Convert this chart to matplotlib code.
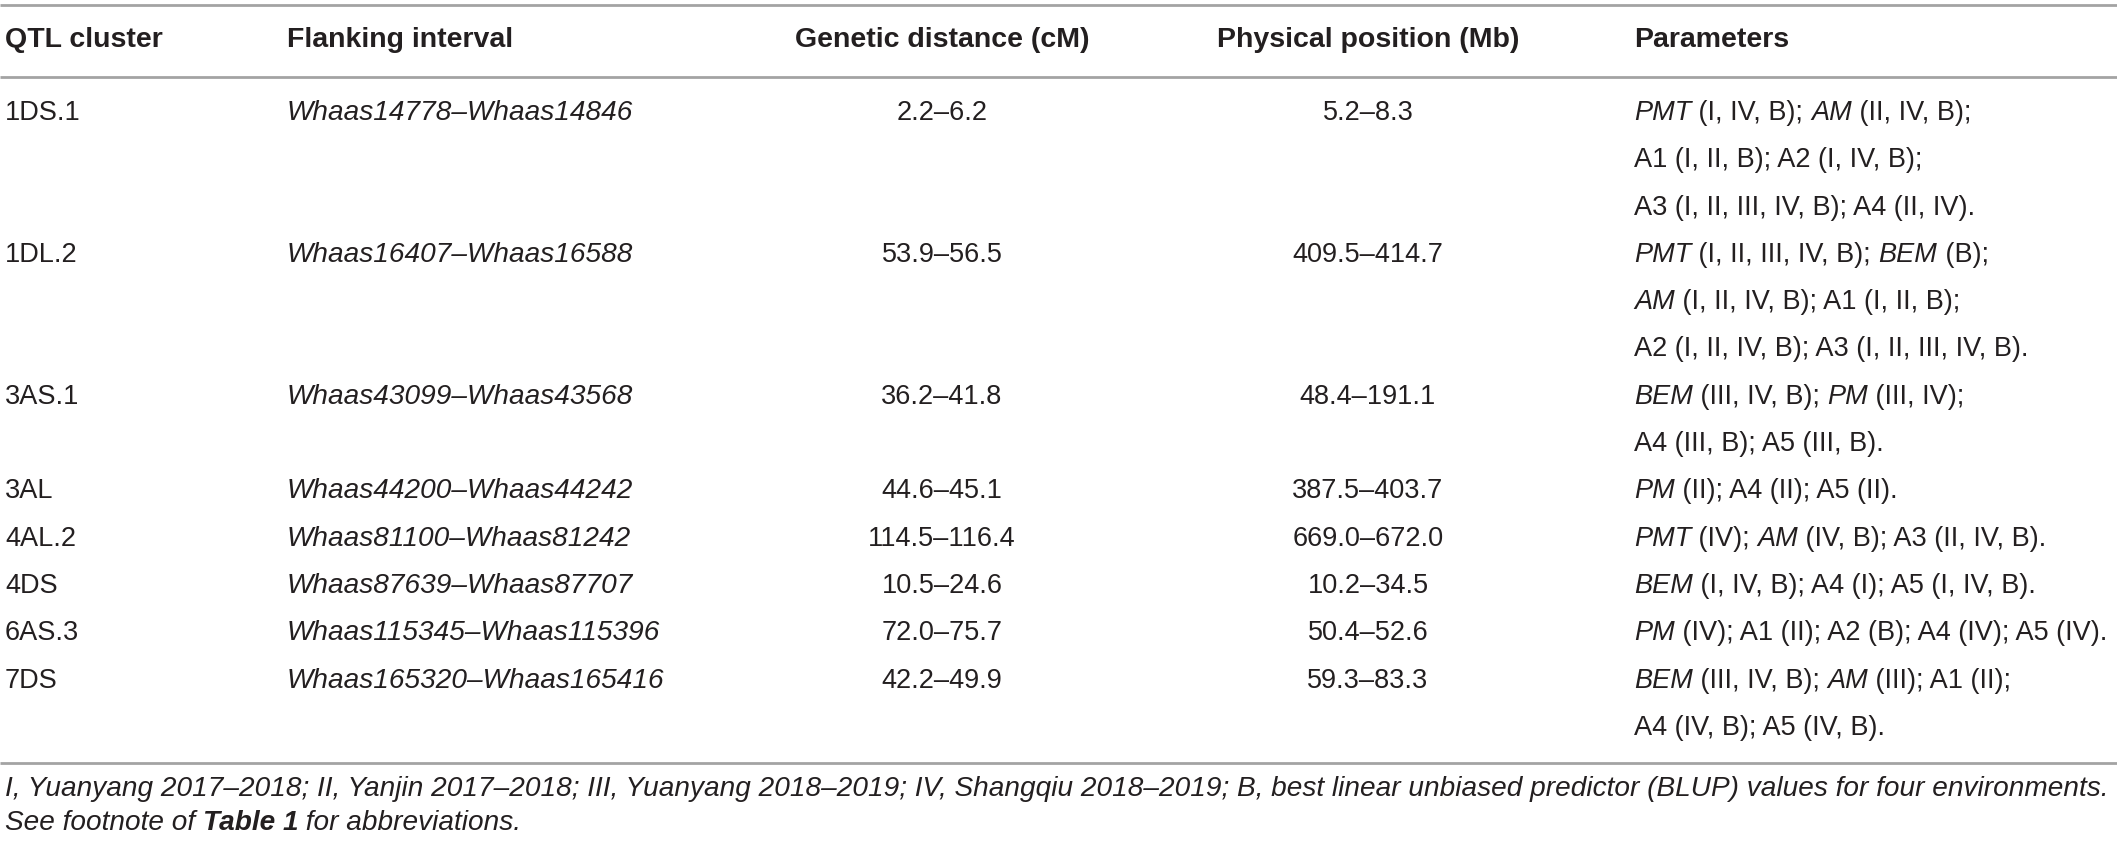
import matplotlib.pyplot as plt

# =========================
# Table contents
# =========================
headers = ["QTL cluster", "Flanking interval", "Genetic distance (cM)",
           "Physical position (Mb)", "Parameters"]

clusters = ["1DS.1", "1DL.2", "3AS.1", "3AL", "4AL.2", "4DS", "6AS.3", "7DS"]

intervals = ["Whaas14778–Whaas14846", "Whaas16407–Whaas16588",
             "Whaas43099–Whaas43568", "Whaas44200–Whaas44242",
             "Whaas81100–Whaas81242", "Whaas87639–Whaas87707",
             "Whaas115345–Whaas115396", "Whaas165320–Whaas165416"]

genetic = ["2.2–6.2", "53.9–56.5", "36.2–41.8", "44.6–45.1",
           "114.5–116.4", "10.5–24.6", "72.0–75.7", "42.2–49.9"]

physical = ["5.2–8.3", "409.5–414.7", "48.4–191.1", "387.5–403.7",
            "669.0–672.0", "10.2–34.5", "50.4–52.6", "59.3–83.3"]

# *word* = italic
params = [
    ["*PMT* (I, IV, B); *AM* (II, IV, B);",
     "A1 (I, II, B); A2 (I, IV, B);",
     "A3 (I, II, III, IV, B); A4 (II, IV)."],
    ["*PMT* (I, II, III, IV, B); *BEM* (B);",
     "*AM* (I, II, IV, B); A1 (I, II, B);",
     "A2 (I, II, IV, B); A3 (I, II, III, IV, B)."],
    ["*BEM* (III, IV, B); *PM* (III, IV);",
     "A4 (III, B); A5 (III, B)."],
    ["*PM* (II); A4 (II); A5 (II)."],
    ["*PMT* (IV); *AM* (IV, B); A3 (II, IV, B)."],
    ["*BEM* (I, IV, B); A4 (I); A5 (I, IV, B)."],
    ["*PM* (IV); A1 (II); A2 (B); A4 (IV); A5 (IV)."],
    ["*BEM* (III, IV, B); *AM* (III); A1 (II);",
     "A4 (IV, B); A5 (IV, B)."],
]

footnote1 = ("I, Yuanyang 2017–2018; II, Yanjin 2017–2018; III, Yuanyang 2018–2019; "
             "IV, Shangqiu 2018–2019; B, best linear unbiased predictor (BLUP) "
             "values for four environments.")
footnote2 = ["See footnote of ", "Table 1", " for abbreviations."]

# =========================
# Layout
# =========================
W, H = 2117, 844
FS = 19.5
FS_HEAD = 20.5
FS_ITAL = 20.2
FS_NOTE = 20.2
TXT = "#231f20"
LINE = "#a3a3a3"
FONT = "Liberation Sans"

x_cluster = 5
x_interval = 287
x_genetic = 942
x_physical = 1368
x_params = 1634

y_header = 40
y_first = 113
pitch = 47.3

fig = plt.figure(figsize=(W / 100, H / 100), dpi=100)
ax = fig.add_axes([0, 0, 1, 1])
ax.set_xlim(0, W)
ax.set_ylim(H, 0)
ax.axis("off")

for yl in (5, 77, 763):
    ax.plot([0, W], [yl, yl], color=LINE, lw=2.0, solid_capstyle="butt")

kw = dict(color=TXT, family=FONT, va="center")

hx = [x_cluster, x_interval, x_genetic, x_physical, x_params]
ha = ["left", "left", "center", "center", "left"]
for h, x, a in zip(headers, hx, ha):
    ax.text(x, y_header, h, ha=a, fontweight="bold", fontsize=FS_HEAD, **kw)

fig.canvas.draw()
renderer = fig.canvas.get_renderer()


def draw_runs(x, y, runs, fs):
    # runs: list of (text, style, weight), placed one after another
    for s, style, weight in runs:
        t = ax.text(x, y, s, ha="left", style=style, fontweight=weight,
                    fontsize=fs, **kw)
        bb = t.get_window_extent(renderer=renderer)
        x += bb.width  # axes units == pixels here


def parse(line):
    parts = line.split("*")
    runs = []
    for i, p in enumerate(parts):
        if p:
            runs.append((p, "italic" if i % 2 else "normal", "normal"))
    return runs


line_idx = 0
for i in range(len(clusters)):
    y = y_first + line_idx * pitch
    ax.text(x_cluster, y, clusters[i], ha="left", fontsize=FS, **kw)
    ax.text(x_interval, y, intervals[i], ha="left", style="italic",
            fontsize=FS_ITAL, **kw)
    ax.text(x_genetic, y, genetic[i], ha="center", fontsize=FS, **kw)
    ax.text(x_physical, y, physical[i], ha="center", fontsize=FS, **kw)
    for ln in params[i]:
        draw_runs(x_params, y_first + line_idx * pitch, parse(ln), FS)
        line_idx += 1

ax.text(x_cluster, 789, footnote1, ha="left", style="italic",
        fontsize=FS_NOTE, **kw)
draw_runs(x_cluster, 823, [(footnote2[0], "italic", "normal"),
                           (footnote2[1], "italic", "bold"),
                           (footnote2[2], "italic", "normal")], FS_NOTE)

fig.savefig("out.png", dpi=100)
